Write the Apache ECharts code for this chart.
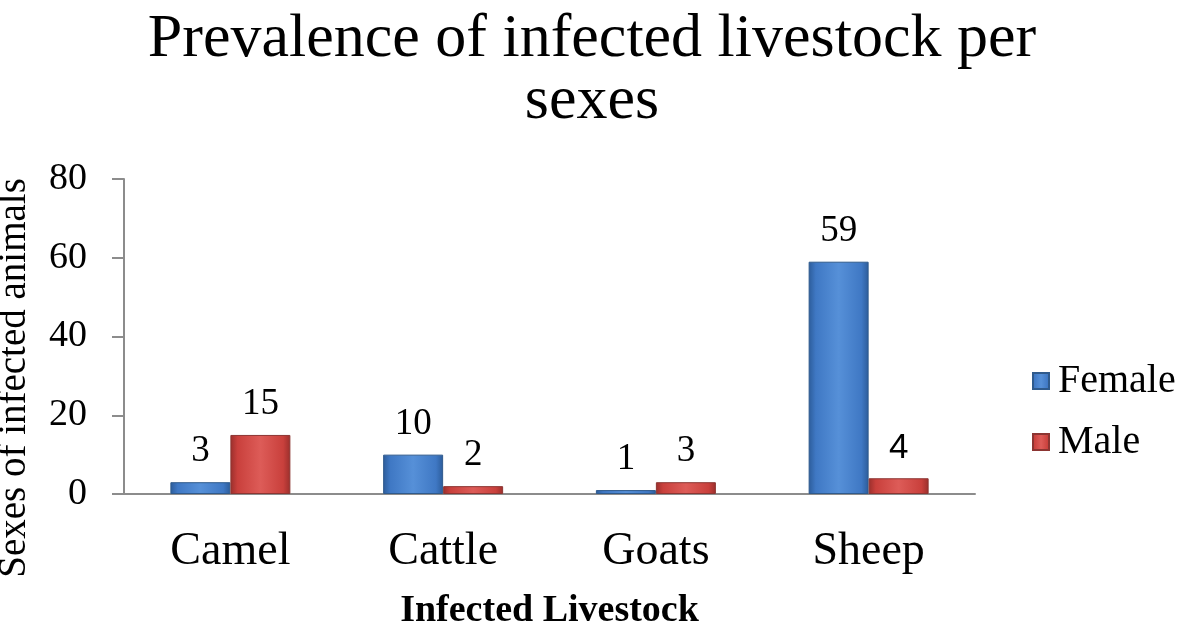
<!DOCTYPE html>
<html>
<head>
<meta charset="utf-8">
<script src="https://cdn.jsdelivr.net/npm/echarts@6/dist/echarts.min.js"></script>
<style>
html,body{margin:0;padding:0;background:#fff;}
#chart{width:1184px;height:628px;}
</style>
</head>
<body>
<div id="chart"></div>
<script>
var categories = ['Camel', 'Cattle', 'Goats', 'Sheep'];
var female = [3, 10, 1, 59];
var male = [15, 2, 3, 4];
var yTicks = [0, 20, 40, 60, 80];

var SERIF = "'Liberation Serif', 'Times New Roman', serif";

function grad(dark, main, light) {
  return new echarts.graphic.LinearGradient(0, 0, 1, 0, [
    {offset: 0, color: dark},
    {offset: 0.12, color: main},
    {offset: 0.5, color: light},
    {offset: 0.88, color: main},
    {offset: 1, color: dark}
  ]);
}

var chart = echarts.init(document.getElementById('chart'));
chart.setOption({
  backgroundColor: '#ffffff',
  animation: false,
  title: {
    text: 'Prevalence of infected livestock per\nsexes',
    left: 'center',
    top: 4,
    textStyle: {fontFamily: SERIF, fontSize: 62, fontWeight: 'normal', color: '#000', lineHeight: 62}
  },
  legend: {
    orient: 'vertical',
    left: 1027,
    top: 356,
    itemWidth: 16,
    itemHeight: 16,
    itemGap: 21,
    icon: 'rect',
    textStyle: {fontFamily: SERIF, fontSize: 40, color: '#000', padding: [0, 0, 0, 4]},
    data: ['Female', 'Male']
  },
  grid: {left: 124, right: 209, top: 179, bottom: 134, containLabel: false, outerBoundsMode: 'none'},
  xAxis: {
    type: 'category',
    data: categories,
    name: 'Infected Livestock',
    nameLocation: 'middle',
    nameGap: 98,
    nameTextStyle: {fontFamily: SERIF, fontSize: 38, fontWeight: 'bold', color: '#000'},
    axisLine: {lineStyle: {color: '#8c8c8c', width: 2}},
    axisTick: {show: false},
    axisLabel: {fontFamily: SERIF, fontSize: 46, color: '#000', margin: 35}
  },
  yAxis: {
    type: 'value',
    min: yTicks[0],
    max: yTicks[yTicks.length - 1],
    interval: yTicks[1] - yTicks[0],
    axisLine: {show: true, lineStyle: {color: '#8c8c8c', width: 2}},
    axisTick: {show: true, inside: false, length: 12, lineStyle: {color: '#8c8c8c', width: 2}},
    splitLine: {show: false},
    axisLabel: {fontFamily: SERIF, fontSize: 38, color: '#000', margin: 37}
  },
  graphic: [{
    type: 'text',
    x: 15,
    y: 378,
    rotation: Math.PI / 2,
    style: {
      text: 'Sexes of infected animals',
      font: '39px ' + SERIF,
      fill: '#000',
      textAlign: 'center',
      textVerticalAlign: 'middle'
    }
  }],
  series: [{
    name: 'Female',
    type: 'bar',
    barWidth: 60,
    barGap: '0%',
    data: female,
    itemStyle: {color: grad('#2c5c9a', '#3f78c4', '#5690d8'), borderColor: '#2f5a8c', borderWidth: 1},
    label: {show: true, position: 'top', distance: 12, fontFamily: SERIF, fontSize: 37, color: '#000'}
  }, {
    name: 'Male',
    type: 'bar',
    barWidth: 60,
    barGap: '0%',
    data: male.map(function (v, i) {
      return i === 3 ? {value: v, label: {fontFamily: "'Liberation Sans', Arial, sans-serif", fontSize: 35}} : v;
    }),
    itemStyle: {color: grad('#9a2f2c', '#c9403c', '#dd5c58'), borderColor: '#8c3532', borderWidth: 1},
    label: {show: true, position: 'top', distance: 12, fontFamily: SERIF, fontSize: 37, color: '#000'}
  }]
});
</script>
</body>
</html>
